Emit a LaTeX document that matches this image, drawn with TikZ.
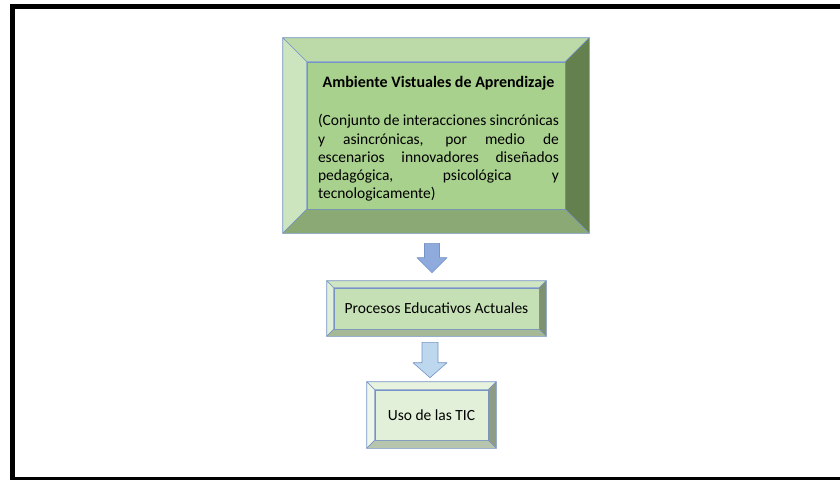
\documentclass[tikz,border=0pt]{standalone}
\usepackage{fontspec}
\setmainfont{Carlito}
\usetikzlibrary{calc}

\definecolor{bordeazul}{HTML}{7593C5}
\definecolor{caraA}{HTML}{A9D18E}
\definecolor{supA}{HTML}{BCDAA7}
\definecolor{izqA}{HTML}{CDE5BF}
\definecolor{derA}{HTML}{64804E}
\definecolor{infA}{HTML}{8BA975}
\definecolor{caraB}{HTML}{C5E0B4}
\definecolor{supB}{HTML}{D0E6C2}
\definecolor{izqB}{HTML}{E0EFD7}
\definecolor{derB}{HTML}{7E9170}
\definecolor{infB}{HTML}{A6B996}
\definecolor{caraC}{HTML}{E2F0D9}
\definecolor{supC}{HTML}{E7F2DF}
\definecolor{izqC}{HTML}{EFF7EA}
\definecolor{derC}{HTML}{8E9C85}
\definecolor{infC}{HTML}{B7C4AE}
\definecolor{flechaA}{HTML}{8FAADC}
\definecolor{flechaB}{HTML}{BDD7EE}

\tikzset{
  cara/.style={draw=bordeazul, line width=0.6pt, inner sep=0pt},
  bisel/.style={draw=bordeazul, line width=0.6pt, line join=round},
  texto/.style={inner sep=0pt, font=\fontsize{15.5}{18.3}\selectfont}
}

% node, depth, top, left, right, bottom
\newcommand{\marco}[6]{%
  \filldraw[bisel, fill=#3] (#1.north west) -- ($(#1.north west)+(-#2,-#2)$) -- ($(#1.north east)+(#2,-#2)$) -- (#1.north east) -- cycle;
  \filldraw[bisel, fill=#4] (#1.north west) -- ($(#1.north west)+(-#2,-#2)$) -- ($(#1.south west)+(-#2,#2)$) -- (#1.south west) -- cycle;
  \filldraw[bisel, fill=#5] (#1.north east) -- ($(#1.north east)+(#2,-#2)$) -- ($(#1.south east)+(#2,#2)$) -- (#1.south east) -- cycle;
  \filldraw[bisel, fill=#6] (#1.south west) -- ($(#1.south west)+(-#2,#2)$) -- ($(#1.south east)+(#2,#2)$) -- (#1.south east) -- cycle;
}

% colour, top, tip, half shaft, half head, head length
\newcommand{\flecha}[6]{%
  \filldraw[bisel, fill=#1] let \p1=#2, \p2=#3 in
    (\x1-#4pt,\y1) -- (\x1+#4pt,\y1) -- (\x1+#4pt,\y2+#6pt) -- (\x1+#5pt,\y2+#6pt)
    -- (\x1,\y2) -- (\x1-#5pt,\y2+#6pt) -- (\x1-#4pt,\y2+#6pt) -- cycle;
}

\begin{document}
\begin{tikzpicture}[x=1pt,y=-1pt]
  \useasboundingbox (0,0) rectangle (840,479);
  \clip (0,0) rectangle (840,479);
  \fill[white] (0,0) rectangle (840,479);
  \draw[line width=5pt] (12.5,6.5) rectangle (850,479.8);

  \node[cara, fill=caraA, minimum width=258pt, minimum height=147pt] (av) at (436,135.5) {};
  \marco{av}{24}{supA}{izqA}{derA}{infA}
  \node[texto, text width=241pt, align=justify, anchor=north] (avtexto) at (438.5,76)
    {\makebox[\linewidth]{\fontsize{16}{18.3}\selectfont\bfseries Ambiente Vistuales de Aprendizaje}\par\vspace{20pt}%
     (Conjunto de interacciones sincrónicas\linebreak
     y asincrónicas, por medio de\linebreak
     escenarios innovadores diseñados\linebreak
     pedagógica, psicológica y\linebreak
     tecnologicamente)};

  \node[cara, fill=caraB, minimum width=205pt, minimum height=41pt, texto] (pea) at (436.5,308.5)
    {Procesos Educativos Actuales};
  \marco{pea}{7}{supB}{izqB}{derB}{infB}

  \node[cara, fill=caraC, minimum width=113pt, minimum height=50pt, texto] (uso) at (431.5,415)
    {Uso de las TIC};
  \marco{uso}{8}{supC}{izqC}{derC}{infC}

  \flecha{flechaA}{($(av.south)+(-4,34)$)}{($(pea.north)+(-4.5,-15)$)}{7.5}{15}{15}
  \flecha{flechaB}{($(pea.south)+(-6.5,13)$)}{($(uso.north)+(-1.5,-12)$)}{8}{17}{15}
\end{tikzpicture}
\end{document}
